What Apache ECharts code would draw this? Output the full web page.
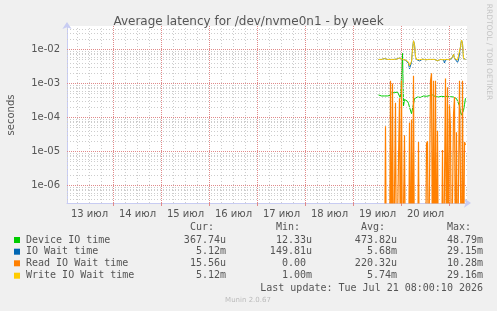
<!DOCTYPE html>
<html>
<head>
<meta charset="utf-8">
<script src="https://cdn.jsdelivr.net/npm/echarts@6/dist/echarts.min.js"></script>
<style>
  html, body { margin: 0; padding: 0; background: #f0f0f0; }
  #chart { width: 497px; height: 311px; }
</style>
</head>
<body>
<div id="chart"></div>
<script>
// x in hours since 13 Jul 00:00, one sample every 30 min
const startHour = 156.5
const stepHours = 0.5
const dayLabels = ['13 июл', '14 июл', '15 июл', '16 июл', '17 июл', '18 июл', '19 июл', '20 июл']

const deviceIO = [
  4.6e-4, 4.4e-4, 4.3e-4, 4.3e-4, 4.2e-4, 4.2e-4, 4.3e-4, 4.2e-4, 4.4e-4, 4.3e-4,
  4.2e-4, 4.3e-4, 4.5e-4, 5.3e-4, 5.5e-4, 5.6e-4, 5.4e-4, 5.5e-4, 5.3e-4, 5.6e-4,
  5.4e-4, 5.2e-4, 3.7e-4, 3.5e-4, 7.7e-3, 2.2e-4, 3.4e-4, 3.2e-4, 3.3e-4, 3.0e-4,
  2.6e-4, 2.0e-4, 1.9e-4, 1.3e-4, 1.15e-4, 2.5e-4, 3.6e-4, 4.1e-4, 3.9e-4, 4.0e-4,
  4.2e-4, 4.0e-4, 3.9e-4, 4.1e-4, 4.0e-4, 4.3e-4, 4.1e-4, 4.0e-4, 4.2e-4, 4.0e-4,
  4.1e-4, 4.4e-4, 4.2e-4, 4.0e-4, 4.6e-4, 4.8e-4, 4.5e-4, 4.1e-4, 4.0e-4, 3.9e-4,
  4.0e-4, 4.1e-4, 4.0e-4, 4.2e-4, 4.0e-4, 3.9e-4, 4.1e-4, 4.0e-4, 4.0e-4, 4.2e-4,
  4.0e-4, 3.9e-4, 4.1e-4, 4.0e-4, 3.9e-4, 4.0e-4, 4.1e-4, 3.9e-4, 3.6e-4, 3.4e-4,
  3.8e-4, 2.2e-4, 1.4e-4, 1.2e-4, 1.25e-4, 1.6e-4, 2.4e-4, 3.68e-4
]
const ioWait = [
  5.1e-3, 5.1e-3, 5.0e-3, 5.1e-3, 5.2e-3, 4.8e-3, 5.4e-3, 5.2e-3, 5.1e-3, 5.1e-3,
  5.0e-3, 5.1e-3, 5.1e-3, 5.2e-3, 5.1e-3, 5.1e-3, 5.0e-3, 5.1e-3, 5.2e-3, 5.2e-3,
  5.3e-3, 5.6e-3, 5.6e-3, 5.5e-3, 5.1e-3, 4.9e-3, 4.8e-3, 4.9e-3, 4.8e-3, 4.4e-3,
  3.9e-3, 2.7e-3, 2.5e-3, 4.2e-3, 1.0e-2, 1.8e-2, 1.4e-2, 6.0e-3, 5.1e-3, 5.1e-3,
  5.0e-3, 4.6e-3, 5.1e-3, 5.1e-3, 5.2e-3, 5.1e-3, 5.1e-3, 5.0e-3, 5.1e-3, 5.1e-3,
  5.1e-3, 5.2e-3, 5.1e-3, 5.1e-3, 5.0e-3, 5.1e-3, 5.1e-3, 5.0e-3, 4.7e-3, 4.7e-3,
  4.8e-3, 5.0e-3, 5.1e-3, 5.1e-3, 5.0e-3, 5.0e-3, 4.0e-3, 5.0e-3, 5.1e-3, 5.1e-3,
  5.1e-3, 5.0e-3, 5.1e-3, 5.3e-3, 6.0e-3, 7.2e-3, 5.5e-3, 5.1e-3, 5.0e-3, 4.2e-3,
  4.9e-3, 5.5e-3, 1.2e-2, 1.9e-2, 1.5e-2, 5.5e-3, 5.2e-3, 5.12e-3
]
const readWait = [
  0, 0, 0, 0, 0, 0, 0, 5.5e-5, 0, 0,
  0, 0, 1.2e-3, 0, 1.0e-3, 0, 0, 2.7e-4, 0, 0,
  0, 3.7e-4, 0, 1.2e-3, 0, 0, 3e-5, 0, 0, 0,
  0, 7e-5, 0, 8.7e-5, 0, 1.7e-3, 0, 0, 0, 0,
  1.9e-5, 0, 0, 0, 0, 0, 0, 0, 1.7e-5, 2e-5,
  0, 0, 1.2e-3, 2e-3, 0, 1.2e-3, 0, 1.2e-3, 0, 4e-5,
  0, 0, 0, 0, 1.1e-5, 0, 0, 1.4e-3, 0, 7.7e-4,
  0, 2.3e-4, 5e-5, 0, 0, 1.2e-4, 4e-4, 0, 3.7e-5, 0,
  0, 1.2e-3, 1.1e-3, 0, 1.2e-3, 0, 1.9e-5, 1.556e-5
]
const writeWait = [
  5.1e-3, 5.1e-3, 5.0e-3, 5.1e-3, 5.2e-3, 5.3e-3, 5.4e-3, 5.2e-3, 5.1e-3, 5.1e-3,
  5.0e-3, 5.1e-3, 5.1e-3, 5.2e-3, 5.1e-3, 5.1e-3, 5.0e-3, 5.1e-3, 5.2e-3, 5.2e-3,
  5.3e-3, 5.6e-3, 5.6e-3, 5.5e-3, 5.1e-3, 4.9e-3, 4.8e-3, 4.9e-3, 4.8e-3, 4.6e-3,
  4.3e-3, 3.3e-3, 3.0e-3, 4.5e-3, 1.0e-2, 1.8e-2, 1.4e-2, 6.0e-3, 5.1e-3, 5.1e-3,
  5.0e-3, 5.0e-3, 5.1e-3, 5.1e-3, 5.2e-3, 5.1e-3, 5.1e-3, 5.0e-3, 5.1e-3, 5.1e-3,
  5.1e-3, 5.2e-3, 5.1e-3, 5.1e-3, 5.0e-3, 5.1e-3, 5.1e-3, 5.0e-3, 4.7e-3, 4.7e-3,
  4.8e-3, 5.0e-3, 5.1e-3, 5.1e-3, 5.0e-3, 5.0e-3, 4.8e-3, 5.0e-3, 5.1e-3, 5.1e-3,
  5.1e-3, 5.0e-3, 5.1e-3, 5.3e-3, 6.0e-3, 7.2e-3, 5.5e-3, 5.1e-3, 5.0e-3, 4.9e-3,
  4.9e-3, 5.5e-3, 1.2e-2, 1.9e-2, 1.5e-2, 5.5e-3, 5.2e-3, 5.12e-3
]

const legendNames = ['Device IO time', 'IO Wait time', 'Read IO Wait time', 'Write IO Wait time']
const legendColors = ['#00cc00', '#0066b3', '#ff8000', '#ffcc00']
const curValues = ['367.74u', '5.12m', '15.56u', '5.12m']
const minValues = ['12.33u', '149.81u', '0.00 ', '1.00m']
const avgValues = ['473.82u', '5.68m', '220.32u', '5.74m']
const maxValues = ['48.79m', '29.15m', '10.28m', '29.16m']

// ranges picked so that 1 h = 2 px and 1 decade = 34 px, grid lines land on pixel centres
const xMin = 0.75
const xMax = 200.75
const expMax = -1.30882
const expMin = -6.51470
const yMin = Math.pow(10, expMin)
const yMax = Math.pow(10, expMax)

function toPairs(values) {
  // zero can't sit on a log axis, push it below the plot so it gets clipped
  return values.map((v, i) => [startHour + i * stepHours, v > 0 ? v : 1e-9])
}

const majorGrid = { color: '#e08a8a', type: [1, 1], width: 1 }
const minorGrid = { color: '#cdcdcd', type: [1, 2], width: 1 }

// grid lines like rrdtool draws them (horizontal ones on a hidden exponent axis)
const gridLines = []
for (let h = 6; h < xMax; h += 6) {
  if (h % 24 != 0) gridLines.push({ xAxis: h, lineStyle: minorGrid })
}
for (let e = -7; e <= -2; e++) {
  for (let k = 2; k <= 9; k++) {
    const ex = e + Math.log10(k)
    if (ex < expMin || ex > expMax) continue
    gridLines.push({ yAxis: ex, lineStyle: minorGrid })
  }
}
// major lines last so they sit on top
for (let h = 24; h < xMax; h += 24) {
  gridLines.push({ xAxis: h, lineStyle: majorGrid })
}
for (let e = -6; e <= -2; e++) {
  gridLines.push({ yAxis: e, lineStyle: majorGrid })
}

function lineSeries(name, values, color, z, width) {
  return {
    name: name,
    type: 'line',
    data: toPairs(values),
    showSymbol: false,
    clip: true,
    z: z,
    lineStyle: { color: color, width: width },
    itemStyle: { color: color },
    animation: false
  }
}

const mono = '10px "DejaVu Sans Mono"'
const textColor = '#555'
const graphics = []
const rowY = [240, 251.7, 263.3, 275.7]
graphics.push({ type: 'text', style: { text: 'Cur:', x: 214, y: 227.5, font: mono, fill: textColor, textAlign: 'right', textVerticalAlign: 'middle' } })
graphics.push({ type: 'text', style: { text: 'Min:', x: 300, y: 227.5, font: mono, fill: textColor, textAlign: 'right', textVerticalAlign: 'middle' } })
graphics.push({ type: 'text', style: { text: 'Avg:', x: 385, y: 227.5, font: mono, fill: textColor, textAlign: 'right', textVerticalAlign: 'middle' } })
graphics.push({ type: 'text', style: { text: 'Max:', x: 471, y: 227.5, font: mono, fill: textColor, textAlign: 'right', textVerticalAlign: 'middle' } })
for (let i = 0; i < legendNames.length; i++) {
  const y = rowY[i]
  graphics.push({ type: 'rect', shape: { x: 14, y: y - 3, width: 6, height: 6 }, style: { fill: legendColors[i] } })
  graphics.push({ type: 'text', style: { text: legendNames[i], x: 26, y: y, font: mono, fill: textColor, textVerticalAlign: 'middle' } })
  graphics.push({ type: 'text', style: { text: curValues[i], x: 226, y: y, font: mono, fill: textColor, textAlign: 'right', textVerticalAlign: 'middle' } })
  graphics.push({ type: 'text', style: { text: minValues[i], x: 312, y: y, font: mono, fill: textColor, textAlign: 'right', textVerticalAlign: 'middle' } })
  graphics.push({ type: 'text', style: { text: avgValues[i], x: 397, y: y, font: mono, fill: textColor, textAlign: 'right', textVerticalAlign: 'middle' } })
  graphics.push({ type: 'text', style: { text: maxValues[i], x: 483, y: y, font: mono, fill: textColor, textAlign: 'right', textVerticalAlign: 'middle' } })
}
graphics.push({ type: 'text', style: { text: 'Last update: Tue Jul 21 08:00:10 2026', x: 483, y: 288, font: mono, fill: textColor, textAlign: 'right', textVerticalAlign: 'middle' } })
graphics.push({ type: 'text', style: { text: 'Munin 2.0.67', x: 248, y: 300, font: '7px "DejaVu Sans"', fill: '#bbb', textAlign: 'center', textVerticalAlign: 'middle' } })
graphics.push({ type: 'text', x: 11, y: 115, rotation: Math.PI / 2, style: { text: 'seconds', font: '10px "DejaVu Sans"', fill: textColor, textAlign: 'center', textVerticalAlign: 'middle' } })
graphics.push({ type: 'text', x: 489, y: 52, rotation: -Math.PI / 2, style: { text: 'RRDTOOL / TOBI OETIKER', font: '7.5px "DejaVu Sans"', fill: '#c4c4c4', textAlign: 'center', textVerticalAlign: 'middle' } })

const chart = echarts.init(document.getElementById('chart'), null, { renderer: 'canvas' })
const option = {
  backgroundColor: '#f0f0f0',
  animation: false,
  title: {
    text: 'Average latency for /dev/nvme0n1 - by week',
    left: 'center',
    top: 11,
    textStyle: { fontFamily: 'DejaVu Sans', fontSize: 12, fontWeight: 'normal', color: '#555' }
  },
  grid: {
    left: 67, right: 30, top: 26, bottom: 108,
    show: true, backgroundColor: '#fff', borderWidth: 0
  },
  xAxis: {
    type: 'value',
    min: xMin,
    max: xMax,
    axisLine: { lineStyle: { color: '#c8ccf2', width: 1 }, symbol: ['none', 'arrow'], symbolSize: [7, 7], symbolOffset: [0, 4] },
    axisTick: { show: true, customValues: [24, 48, 72, 96, 120, 144, 168, 192], length: 3, lineStyle: { color: '#e08a8a' } },
    axisLabel: {
      customValues: [12, 36, 60, 84, 108, 132, 156, 180],
      formatter: v => dayLabels[Math.round((v - 12) / 24)],
      fontFamily: 'DejaVu Sans', fontSize: 10, color: textColor, margin: 6
    },
    splitLine: { show: false }
  },
  yAxis: [
    {
      type: 'log',
      logBase: 10,
      min: yMin,
      max: yMax,
      axisLine: { show: true, lineStyle: { color: '#c8ccf2', width: 1 }, symbol: ['none', 'arrow'], symbolSize: [7, 7], symbolOffset: [0, 4] },
      axisTick: { show: false },
      axisLabel: {
        formatter: v => {
          const e = Math.log10(v)
          if (Math.abs(e - Math.round(e)) > 1e-6) return ''
          const n = Math.abs(Math.round(e))
          return '1e-' + (n < 10 ? '0' + n : n)
        },
        fontFamily: 'DejaVu Sans', fontSize: 10, color: textColor, margin: 7
      },
      splitLine: { show: false },
      minorSplitLine: { show: false }
    },
    {
      // exponent axis, only used to place the horizontal grid lines
      type: 'value',
      min: expMin,
      max: expMax,
      show: false,
      splitLine: { show: false }
    }
  ],
  series: [
    {
      name: 'grid',
      type: 'line',
      data: [],
      yAxisIndex: 1,
      z: 1,
      silent: true,
      markLine: {
        silent: true,
        symbol: ['none', 'none'],
        label: { show: false },
        animation: false,
        data: gridLines
      }
    },
    lineSeries(legendNames[0], deviceIO, legendColors[0], 3, 1),
    lineSeries(legendNames[1], ioWait, legendColors[1], 4, 1),
    lineSeries(legendNames[2], readWait, legendColors[2], 5, 1.2),
    lineSeries(legendNames[3], writeWait, legendColors[3], 6, 1)
  ],
  graphic: graphics
}
chart.setOption(option)
</script>
</body>
</html>
